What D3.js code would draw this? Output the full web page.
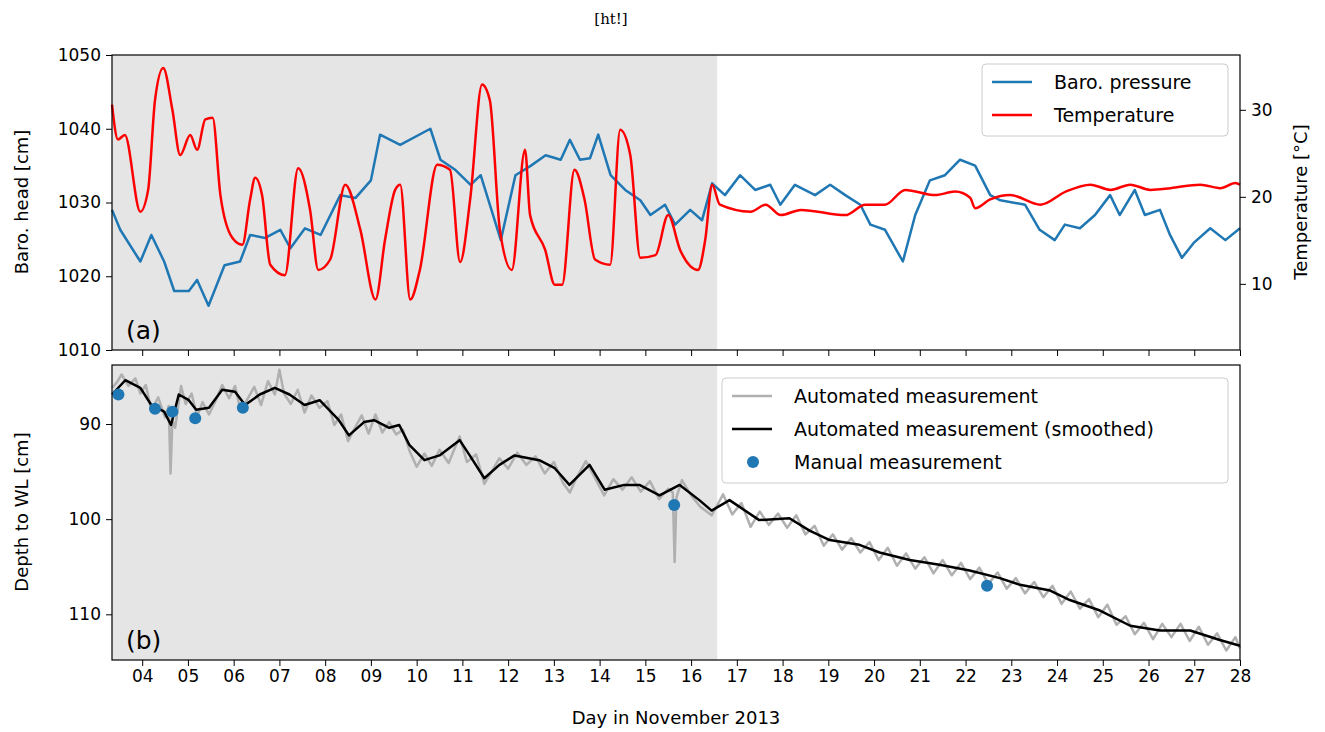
<!DOCTYPE html>
<html><head><meta charset="utf-8">
<script src="https://cdn.jsdelivr.net/npm/d3@7"></script>
<style>body{margin:0;background:#fff}text{font-family:"DejaVu Sans",sans-serif}</style>
</head><body><svg id="c" width="1325" height="732"></svg>
<script>
// barometric pressure [cm], day in Nov 2013
var baroDays = [3.34,3.52,3.96,4.2,4.48,4.7,5.02,5.2,5.45,5.8,6.14,6.36,6.69,7.02,7.24,7.56,7.9,8.33,8.66,9.0,9.2,9.64,10.3,10.52,10.85,11.18,11.4,11.84,12.16,12.5,12.82,13.15,13.35,13.57,13.79,13.97,14.24,14.56,14.89,15.11,15.43,15.65,15.98,16.24,16.46,16.74,17.07,17.4,17.73,17.95,18.27,18.71,19.04,19.37,19.7,19.92,20.24,20.63,20.9,21.22,21.55,21.88,22.21,22.54,22.76,23.3,23.62,23.95,24.17,24.5,24.83,25.16,25.37,25.7,25.92,26.25,26.47,26.73,27.0,27.35,27.68,28.0];
var baroVals = [1029,1026.3,1022,1025.6,1022,1018,1018,1019.5,1016,1021.5,1022,1025.6,1025.2,1026.3,1023.8,1026.5,1025.6,1031,1030.6,1033,1039.2,1037.8,1040,1035.8,1034.4,1032.4,1033.7,1024.9,1033.7,1035,1036.4,1035.8,1038.5,1035.8,1036,1039.2,1033.7,1031.7,1030.3,1028.3,1029.7,1027,1029,1027.6,1032.6,1031,1033.7,1031.7,1032.4,1029.7,1032.4,1031,1032.4,1031,1029.7,1027,1026.3,1022,1028.3,1033,1033.7,1035.8,1035,1031,1030.3,1029.7,1026.3,1024.9,1027,1026.5,1028.3,1031,1028.3,1031.7,1028.3,1029,1025.6,1022.5,1024.6,1026.5,1024.9,1026.5];
// temperature [°C]
var tempDays = [3.34,3.47,3.62,3.96,4.13,4.28,4.46,4.66,4.83,5.05,5.2,5.38,5.54,5.71,5.97,6.19,6.36,6.47,6.62,6.8,7.12,7.41,7.67,7.85,8.11,8.44,8.77,9.1,9.31,9.53,9.64,9.86,10.07,10.45,10.73,10.95,11.17,11.43,11.6,11.82,12.08,12.37,12.48,12.81,13.02,13.18,13.45,13.67,13.9,14.23,14.45,14.67,14.89,15.22,15.5,15.76,16.15,16.31,16.46,16.63,17.3,17.63,17.96,18.4,19.37,19.81,20.24,20.68,21.33,21.77,22.1,22.21,22.54,22.98,23.64,24.19,24.73,25.17,25.6,26.04,26.48,27.13,27.57,27.9,28.0];
var tempVals = [30.6,26.6,27.1,18.3,20.8,31.1,34.8,30,24.8,27.1,25.4,28.9,29.1,20.2,15.3,14.5,19.7,22.2,20.2,12.2,11,23.3,18.5,11.6,12.8,21.4,16.2,8.2,15.1,20.8,21.4,8.2,11.6,23.7,23.1,12.5,19.7,32.9,31.1,16.2,11.6,25.4,17.9,13.9,9.9,9.9,23.1,19.7,12.8,12.2,27.7,24.8,13,13.3,17.9,13.9,11.6,15.1,21.4,19.1,18.3,19.1,17.9,18.5,17.9,19.1,19.1,20.8,20.2,20.6,19.9,18.7,19.7,20.2,19.1,20.6,21.4,20.8,21.4,20.8,21,21.4,21,21.6,21.4];
// depth to water level [cm], smoothed
var smDays = [3.34,3.63,3.96,4.2,4.48,4.63,4.8,5.02,5.18,5.46,5.75,6.03,6.25,6.57,6.9,7.22,7.55,7.88,8.3,8.52,8.85,9.07,9.4,9.62,9.84,10.17,10.5,10.94,11.16,11.48,11.81,12.14,12.68,13.01,13.34,13.78,14.11,14.54,14.87,15.31,15.75,16.18,16.45,16.84,17.49,18.15,18.59,19.03,19.68,20.12,20.78,21.43,22.09,22.75,23.19,23.85,24.28,24.94,25.6,26.25,26.91,27.56,28.0];
var smVals = [86.9,85.4,86.2,88,88.7,90.1,86.9,87.5,88.5,88.3,86.4,86.6,88,86.9,86.2,86.9,88,87.5,89.6,91.2,89.8,89.6,90.4,90.1,92.2,93.8,93.3,91.7,93.3,95.7,94.3,93.3,93.8,94.6,96.4,94.3,96.9,96.4,96.4,97.5,96.4,98,99.1,98,100.1,99.9,101.2,102.2,102.7,103.5,104.3,104.8,105.4,106.2,106.9,107.5,108.5,109.6,111.2,111.7,111.7,112.7,113.3];
// raw automated measurement
var rawDays = [3.34,3.45,3.55,3.7,3.85,3.96,4.08,4.2,4.35,4.5,4.58,4.62,4.66,4.72,4.85,4.95,5.08,5.2,5.32,5.46,5.6,5.75,5.9,6.03,6.15,6.3,6.45,6.6,6.75,6.9,7.0,7.1,7.25,7.4,7.55,7.7,7.88,8.05,8.2,8.35,8.5,8.65,8.8,8.95,9.1,9.25,9.4,9.55,9.7,9.85,10.0,10.17,10.33,10.5,10.7,10.94,11.1,11.3,11.48,11.65,11.81,12.0,12.2,12.4,12.6,12.8,13.0,13.2,13.35,13.5,13.7,13.9,14.1,14.3,14.5,14.7,14.9,15.1,15.3,15.5,15.6,15.64,15.68,15.8,16.0,16.2,16.45,16.7,16.9,17.1,17.3,17.5,17.7,17.9,18.1,18.3,18.5,18.7,18.9,19.1,19.3,19.5,19.7,19.9,20.1,20.3,20.5,20.7,20.9,21.1,21.3,21.5,21.7,21.9,22.1,22.3,22.5,22.7,22.9,23.1,23.3,23.5,23.7,23.9,24.1,24.3,24.5,24.7,24.9,25.1,25.3,25.5,25.7,25.9,26.1,26.3,26.5,26.7,26.9,27.1,27.3,27.5,27.7,27.9,28.0];
var rawVals = [86.2,85.6,84.8,86.0,85.2,86.8,85.9,88.6,87.2,89.3,88.1,95.2,89.6,90.4,86.0,87.9,86.8,89.2,87.7,89.0,87.6,85.9,87.3,86.0,88.6,87.4,86.1,88.0,85.5,86.9,84.3,86.8,87.9,86.4,88.8,87.0,88.3,87.6,90.1,89.0,91.8,90.4,89.1,91.0,89.0,90.9,89.8,91.1,90.6,92.9,94.5,93.1,94.4,92.7,94.1,91.3,94.0,93.2,96.3,94.9,93.6,94.7,93.0,94.3,93.4,95.2,94.0,96.2,97.2,95.6,93.9,95.7,97.5,95.8,96.9,95.6,97.1,96.0,97.9,96.8,97.2,104.5,97.7,95.9,97.5,98.7,99.6,97.4,99.5,98.3,100.8,99.2,100.6,99.4,100.9,99.6,101.6,100.7,102.8,101.6,103.2,102.0,103.5,102.4,104.3,103.0,104.9,103.6,105.2,104.0,105.7,104.3,105.9,104.6,106.3,105.1,106.8,105.6,107.3,106.2,107.8,106.6,108.2,107.0,108.9,107.6,109.4,108.4,110.3,109.0,111.1,110.2,112.1,110.9,112.6,111.0,112.4,111.0,112.8,111.3,113.2,112.0,113.8,112.4,113.6];
var manDays = [3.48,4.28,4.66,5.16,6.2,15.63,22.47];
var manVals = [86.9,88.4,88.7,89.4,88.3,98.5,107];
var dayTicks = d3.range(4, 29);
var shadeEnd = 16.57;

var svg = d3.select("#c");
var L = 112, R = 1240;
var x = d3.scaleLinear().domain([3.34, 28]).range([L, R]);
var yA = d3.scaleLinear().domain([1010, 1050]).range([350, 55]);
var yT = d3.scaleLinear().domain([2.4, 36.3]).range([350, 55]);
var yB = d3.scaleLinear().domain([83.8, 114.8]).range([365, 660]);

svg.append("text").attr("x", 611).attr("y", 24).attr("text-anchor", "middle")
  .style("font-family", "DejaVu Serif, serif").style("font-size", "15px").text("[ht!]");

function panel(top, bot) {
  svg.append("rect").attr("x", L).attr("y", top).attr("width", x(shadeEnd) - L).attr("height", bot - top).attr("fill", "#e5e5e5");
}
panel(55, 350);
panel(365, 660);

var g = svg.append("g");
function path(days, vals, ys, col, w, curve) {
  g.append("path").datum(d3.zip(days, vals)).attr("fill", "none").attr("stroke", col).attr("stroke-width", w)
    .attr("stroke-linejoin", "round")
    .attr("d", d3.line().curve(curve || d3.curveLinear).x(d => x(d[0])).y(d => ys(d[1])));
}
path(baroDays, baroVals, yA, "#1f77b4", 2.5);
path(tempDays, tempVals, yT, "#ff0000", 2.5, d3.curveMonotoneX);
path(rawDays, rawVals, yB, "#b0b0b0", 2.5);
path(smDays, smVals, yB, "#000", 2.5);
g.selectAll(".man").data(d3.zip(manDays, manVals)).enter().append("circle")
  .attr("cx", d => x(d[0])).attr("cy", d => yB(d[1])).attr("r", 6).attr("fill", "#1f77b4");

function fr(top, bot) {
  svg.append("rect").attr("x", L).attr("y", top).attr("width", R - L).attr("height", bot - top)
    .attr("fill", "none").attr("stroke", "#000").attr("stroke-width", 1.2);
}
fr(55, 350); fr(365, 660);

function style(a) {
  a.selectAll("text").style("font-size", "17px").style("font-family", "DejaVu Sans");
  a.select(".domain").remove();
}
var fmt = d3.format("d");
svg.append("g").attr("transform", "translate(" + L + ",0)").call(d3.axisLeft(yA).tickValues([1010,1020,1030,1040,1050]).tickFormat(fmt).tickSize(6).tickPadding(5)).call(style);
svg.append("g").attr("transform", "translate(" + R + ",0)").call(d3.axisRight(yT).tickValues([10,20,30]).tickFormat(fmt).tickSize(6).tickPadding(5)).call(style);
svg.append("g").attr("transform", "translate(" + L + ",0)").call(d3.axisLeft(yB).tickValues([90,100,110]).tickFormat(fmt).tickSize(6).tickPadding(5)).call(style);
svg.append("g").attr("transform", "translate(0,350)").call(d3.axisBottom(x).tickValues(dayTicks).tickFormat("").tickSize(6)).call(style);
svg.append("g").attr("transform", "translate(0,660)").call(d3.axisBottom(x).tickValues(dayTicks).tickFormat(d3.format("02d")).tickSize(6).tickPadding(4)).call(style);

function lab(t, xx, yy, rot) {
  svg.append("text").attr("transform", "translate(" + xx + "," + yy + ") rotate(" + rot + ")")
    .attr("text-anchor", "middle").style("font-size", "18px").text(t);
}
lab("Baro. head [cm]", 28, 202, -90);
lab("Temperature [°C]", 1307, 202, -90);
lab("Depth to WL [cm]", 28, 512, -90);
lab("Day in November 2013", 676, 724, 0);
svg.append("text").attr("x", 126).attr("y", 339).style("font-size", "25px").text("(a)");
svg.append("text").attr("x", 126).attr("y", 649).style("font-size", "25px").text("(b)");

function legend(x0, y0, w, items) {
  svg.append("rect").attr("x", x0).attr("y", y0).attr("width", w).attr("height", items.length * 33 + 6)
    .attr("rx", 4).attr("fill", "#fff").attr("fill-opacity", 0.85).attr("stroke", "#ccc");
  items.forEach(function (it, i) {
    var cy = y0 + 18 + i * 33;
    if (it.dot) svg.append("circle").attr("cx", x0 + 31).attr("cy", cy).attr("r", 6).attr("fill", it.c);
    else svg.append("line").attr("x1", x0 + 10).attr("x2", x0 + 50).attr("y1", cy).attr("y2", cy).attr("stroke", it.c).attr("stroke-width", 2.5);
    svg.append("text").attr("x", x0 + 72).attr("y", cy + 7).style("font-size", "19px").text(it.t);
  });
}
legend(982, 64, 246, [{t: "Baro. pressure", c: "#1f77b4"}, {t: "Temperature", c: "#ff0000"}]);
legend(722, 378, 506, [{t: "Automated measurement", c: "#b0b0b0"}, {t: "Automated measurement (smoothed)", c: "#000"}, {t: "Manual measurement", c: "#1f77b4", dot: true}]);
</script></body></html>
